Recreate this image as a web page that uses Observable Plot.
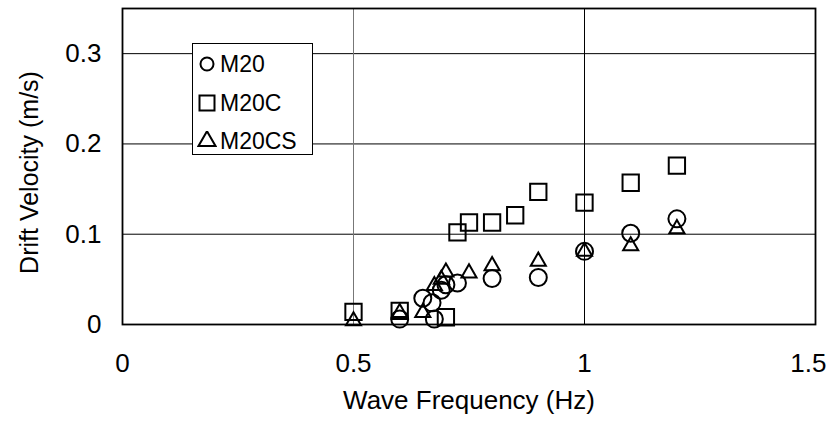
<!DOCTYPE html>
<html>
<head>
<meta charset="utf-8">
<script src="https://cdn.jsdelivr.net/npm/d3@7"></script>
<script src="https://cdn.jsdelivr.net/npm/@observablehq/plot@0.6"></script>
<style>
  html, body { margin: 0; padding: 0; background: #fff; }
  #wrap { position: relative; width: 828px; height: 426px; font-family: "Liberation Sans", Arial, sans-serif; }
  #legend { position: absolute; left: 192px; top: 43px; width: 121px; height: 112px; border: 1.5px solid #000; background: #fff; box-sizing: border-box; }
  .row { position: absolute; left: 4px; height: 26px; display: flex; align-items: center; font-size: 23px; color: #000; line-height: 26px; }
  .row svg { margin-right: 3px; flex: none; }
</style>
</head>
<body>
<div id="wrap"></div>
<script>
// Data
const seriesNames = ["M20", "M20C", "M20CS"];
const freqM20   = [0.6, 0.65, 0.67, 0.675, 0.69, 0.70, 0.725, 0.8, 0.9, 1.0, 1.1, 1.2];
const velM20    = [0.006, 0.029, 0.024, 0.006, 0.038, 0.044, 0.046, 0.051, 0.052, 0.081, 0.101, 0.117];
const freqM20C  = [0.5, 0.6, 0.7, 0.725, 0.75, 0.8, 0.85, 0.9, 1.0, 1.1, 1.2];
const velM20C   = [0.014, 0.015, 0.008, 0.102, 0.113, 0.113, 0.121, 0.147, 0.135, 0.157, 0.176];
const freqM20CS = [0.5, 0.6, 0.65, 0.675, 0.69, 0.70, 0.75, 0.8, 0.9, 1.0, 1.1, 1.2];
const velM20CS  = [0.004, 0.013, 0.013, 0.043, 0.050, 0.058, 0.057, 0.065, 0.070, 0.081, 0.087, 0.106];
const xTicks = [0, 0.5, 1];
const xLastTick = [1.5];
const yTicks = [0, 0.1, 0.2, 0.3];
const xLabel = "Wave Frequency (Hz)";
const yLabel = "Drift Velocity (m/s)";

const toRows = (f, v) => f.map((x, i) => ({x, y: v[i]}));
const dM20 = toRows(freqM20, velM20);
const dM20C = toRows(freqM20C, velM20C);
const dM20CS = toRows(freqM20CS, velM20CS);

const font = "'Liberation Sans', Arial, sans-serif";
const chart = Plot.plot({
  width: 828,
  height: 426,
  marginLeft: 122,
  marginRight: 13,
  marginTop: 8,
  marginBottom: 102,
  style: {fontFamily: font, background: "#fff", color: "#000"},
  x: {domain: [0, 1.5]},
  y: {domain: [0, 0.35]},
  marks: [
    Plot.gridY([0.1, 0.2, 0.3], {stroke: "#000", strokeOpacity: 1, strokeWidth: 1}),
    Plot.gridX([0.5], {stroke: "#777", strokeOpacity: 1, strokeWidth: 1}),
    Plot.gridX([1.0], {stroke: "#000", strokeOpacity: 1, strokeWidth: 1}),
    Plot.axisX({ticks: xTicks, tickSize: 0, tickPadding: 29, fontSize: 26, label: null, tickFormat: d => String(d)}),
    Plot.axisX({ticks: xLastTick, tickSize: 0, tickPadding: 29, fontSize: 26, label: null, textAnchor: "end", dx: 11, tickFormat: d => String(d)}),
    Plot.axisY({ticks: yTicks, tickSize: 0, tickPadding: 21, fontSize: 26, label: null, tickFormat: d => String(d)}),
    Plot.text([xLabel], {frameAnchor: "bottom", dy: 84, fontSize: 26, textAnchor: "middle", text: d => d}),
    Plot.text([yLabel], {frameAnchor: "left", dx: -93, dy: 6, rotate: -90, fontSize: 25, textAnchor: "middle", text: d => d}),
    Plot.dot(dM20C, {x: "x", y: "y", symbol: "square", r: 9.2, stroke: "#000", strokeWidth: 2, fill: "none"}),
    Plot.dot(dM20, {x: "x", y: "y", symbol: "circle", r: 8.5, stroke: "#000", strokeWidth: 2, fill: "none"}),
    Plot.dot(dM20CS, {x: "x", y: "y", symbol: "triangle", r: 5.6, stroke: "#000", strokeWidth: 2, fill: "none"}),
    Plot.frame({stroke: "#000", strokeWidth: 1.8})
  ]
});
const wrap = document.getElementById("wrap");
wrap.appendChild(chart);

// Legend overlay
const legend = document.createElement("div");
legend.id = "legend";
const symbolPaths = {
  "M20": d3.symbol(d3.symbolCircle, Math.PI * 6.5 * 6.5)(),
  "M20C": d3.symbol(d3.symbolSquare, 15 * 15)(),
  "M20CS": d3.symbol(d3.symbolTriangle, Math.sqrt(3) / 4 * 17 * 17)()
};
seriesNames.forEach((name, i) => {
  const row = document.createElement("div");
  row.className = "row";
  row.style.top = (7 + i * 38.5) + "px";
  row.innerHTML = `<svg width="20" height="20" viewBox="-10 -10 20 20"><path d="${symbolPaths[name]}" fill="none" stroke="#000" stroke-width="2"/></svg><span>${name}</span>`;
  legend.appendChild(row);
});
wrap.appendChild(legend);
</script>
</body>
</html>
